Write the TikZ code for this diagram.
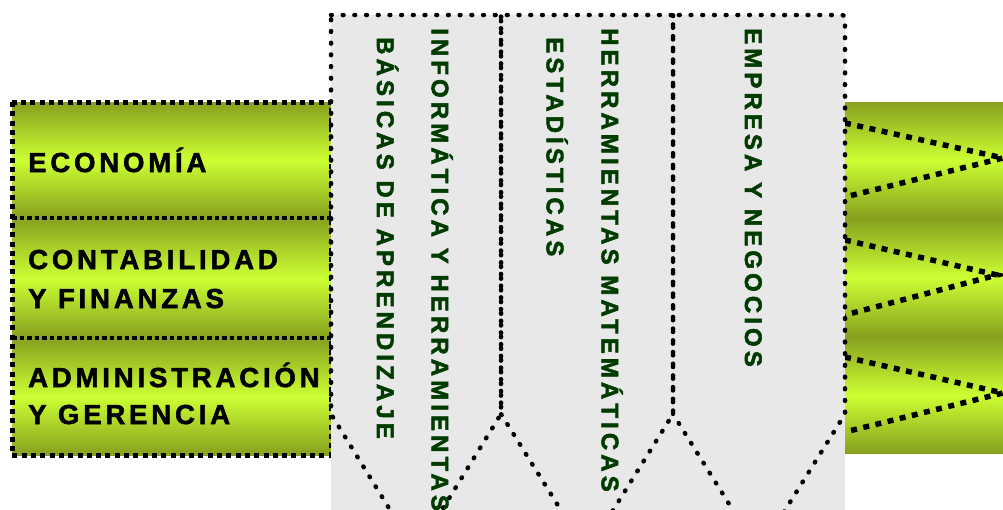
\documentclass[tikz,border=0pt]{standalone}
\usepackage{fontspec}
\setmainfont{Liberation Sans}
\newfontfamily\boxfont{Liberation Sans}[LetterSpace=14,BoldFeatures={FakeBold=2}]
\newfontfamily\colfont{Liberation Sans}[LetterSpace=17,BoldFeatures={FakeBold=2.2}]
\definecolor{olv}{RGB}{134,160,30}
\definecolor{limeg}{RGB}{204,255,51}
\definecolor{panelgray}{RGB}{232,232,232}
\definecolor{txtgreen}{RGB}{0,60,0}
\begin{document}
\begin{tikzpicture}[x=1pt,y=-1pt,
  band/.style={top color=olv,bottom color=olv,middle color=limeg},
  boxborder/.style={draw=black,line width=5pt,dash pattern=on 5pt off 4.3pt},
  sepline/.style={draw=black,line width=3.5pt,dash pattern=on 4.5pt off 3pt},
  zig/.style={draw=black,line width=5.5pt,dash pattern=on 6pt off 6.5pt},
  arrowline/.style={draw=black,line width=4.5pt,dash pattern=on 0.8pt off 10.9pt,line cap=round,line join=round},
  lefttext/.style={inner sep=0pt,anchor=base west,font=\boxfont\bfseries\fontsize{27.5}{32}\selectfont,text=black},
  coltext/.style={inner sep=0pt,anchor=base west,rotate=-90,font=\colfont\bfseries\fontsize{24}{28}\selectfont,text=txtgreen}]
\useasboundingbox (0,0) rectangle (1003,509);
\clip (0,0) rectangle (1003,509);
% left green bands
\shade[band] (12,102) rectangle (331,218);
\shade[band] (12,218) rectangle (331,338);
\shade[band] (12,338) rectangle (331,455);
\draw[sepline] (12,218) -- (331,218);
\draw[sepline] (12,338) -- (331,338);
\draw[boxborder] (12,102) rectangle (331,455);
% right green bands
\shade[band] (845,102) rectangle (1003,218);
\shade[band] (845,218) rectangle (1003,337);
\shade[band] (845,337) rectangle (1003,453);
\draw[zig] (845,123) -- (1003,158) -- (845,197);
\draw[zig] (845,240) -- (997,275) -- (845,315);
\draw[zig] (845,357) -- (1003,393) -- (845,432);
% gray panel and arrows
\fill[panelgray] (331,15) rectangle (845,520);
\draw[arrowline] (331,15) -- (501,15) -- (501,414) -- (416,552) -- (331,414) -- cycle;
\draw[arrowline,dash phase=5.8pt] (501,15) -- (673,15) -- (673,414) -- (587,552) -- (501,414) -- cycle;
\draw[arrowline,dash phase=5.8pt] (673,15) -- (839,15) .. controls (845,15) .. (845,21) -- (845,414) -- (759,552) -- (673,414) -- cycle;
% left texts
\node[lefttext] (t1) at (28,172) {ECONOMÍA};
\node[lefttext] (t2a) at (28,269) {CONTABILIDAD};
\node[lefttext] (t2b) at (28,308) {Y FINANZAS};
\node[lefttext] (t3a) at (28,387) {ADMINISTRACIÓN};
\node[lefttext] (t3b) at (28,424) {Y GERENCIA};
% column texts
\node[coltext] (c1a) at (431.7,28) {INFORMÁTICA Y HERRAMIENTAS};
\node[coltext] (c1b) at (377,37) {BÁSICAS DE APRENDIZAJE};
\node[coltext] (c2a) at (601.7,28) {HERRAMIENTAS MATEMÁTICAS};
\node[coltext] (c2b) at (546.7,37) {ESTADÍSTICAS};
\node[coltext] (c3a) at (745,28) {EMPRESA Y NEGOCIOS};
\end{tikzpicture}
\end{document}
